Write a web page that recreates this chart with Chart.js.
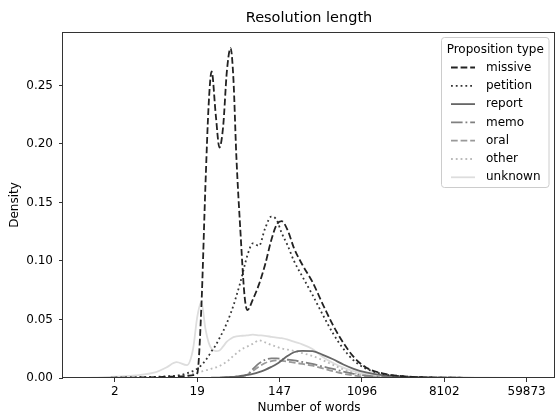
<!DOCTYPE html>
<html>
<head>
<meta charset="utf-8">
<script src="https://cdn.jsdelivr.net/npm/chart.js@4.4.0/dist/chart.umd.min.js"></script>
<style>
  html, body { margin: 0; padding: 0; background: #fff; }
</style>
</head>
<body>
<canvas id="myChart" width="557" height="415"></canvas>
<script>
// x is log1p(number of words); ticks labelled with the word counts
const xGrid = [0.2, 0.5, 1, 1.5, 2, 2.25, 2.5, 2.75, 2.9, 3.0, 3.1, 3.2, 3.28, 3.35, 3.45, 3.54, 3.63, 3.72, 3.81, 3.88,
  3.95, 4.05, 4.15, 4.22, 4.35, 4.5, 4.65, 4.8, 4.93, 5.05, 5.2, 5.35, 5.55, 5.8, 6.05, 6.3, 6.55, 6.8, 7.1, 7.5,
  8, 8.5, 9, 10, 11.2];
const xTickPos = [1, 3, 5, 7, 9, 11];
const xTickLabels = ['2', '19', '147', '1096', '8102', '59873'];
const yTicks = [0, 0.05, 0.10, 0.15, 0.20, 0.25];

const seriesNames = ['missive', 'petition', 'report', 'memo', 'oral', 'other', 'unknown'];

// density values at xGrid
const missive = [0, 0, 0.0002, 0.0004, 0.0007, 0.001, 0.0013, 0.0018, 0.0025, 0.004, 0.06, 0.165, 0.235, 0.262, 0.225, 0.197, 0.215, 0.262, 0.282, 0.255,
  0.19, 0.125, 0.07, 0.058, 0.067, 0.08, 0.097, 0.118, 0.131, 0.134, 0.126, 0.111, 0.097, 0.082, 0.063, 0.045, 0.03, 0.018, 0.009, 0.004,
  0.0015, 0.0006, 0.0003, 0.0001, 0];
const petition = [0, 0, 0.0003, 0.0006, 0.001, 0.0015, 0.002, 0.004, 0.006, 0.008, 0.011, 0.015, 0.019, 0.023, 0.028, 0.034, 0.04, 0.047, 0.055, 0.062,
  0.07, 0.082, 0.096, 0.105, 0.115, 0.113, 0.128, 0.138, 0.135, 0.124, 0.113, 0.1, 0.087, 0.071, 0.054, 0.038, 0.025, 0.015, 0.008, 0.0035,
  0.0015, 0.0006, 0.0003, 0.0001, 0];
const report = [0, 0, 0, 0, 0, 0, 0, 0, 0, 0, 0, 0.0001, 0.0001, 0.0002, 0.0003, 0.0004, 0.0005, 0.0007, 0.0009, 0.001,
  0.0013, 0.0017, 0.0022, 0.0026, 0.0035, 0.005, 0.007, 0.0095, 0.012, 0.015, 0.019, 0.022, 0.0232, 0.023, 0.0198, 0.016, 0.0115, 0.0078, 0.0048, 0.0025,
  0.0012, 0.0006, 0.0003, 0.0001, 0];
const memo = [0, 0, 0, 0, 0, 0, 0, 0, 0, 0, 0, 0, 0, 0, 0.0001, 0.0001, 0.0002, 0.0003, 0.0004, 0.0005,
  0.0007, 0.001, 0.002, 0.003, 0.0075, 0.0125, 0.0155, 0.0168, 0.0168, 0.0162, 0.0156, 0.015, 0.0137, 0.012, 0.0098, 0.0077, 0.0055, 0.0036, 0.002, 0.001,
  0.0004, 0.0002, 0.0001, 0, 0];
const oral = [0, 0, 0, 0, 0, 0, 0, 0, 0, 0, 0, 0, 0, 0, 0, 0.0001, 0.0002, 0.0003, 0.0004, 0.0005,
  0.0007, 0.0012, 0.002, 0.003, 0.006, 0.0098, 0.0128, 0.0145, 0.015, 0.0146, 0.014, 0.0132, 0.012, 0.0105, 0.0082, 0.0058, 0.0037, 0.0022, 0.0011, 0.0005,
  0.0002, 0.0001, 0, 0, 0];
const other = [0, 0, 0.0001, 0.0003, 0.0008, 0.001, 0.0015, 0.0028, 0.0038, 0.0045, 0.0055, 0.0065, 0.0072, 0.008, 0.009, 0.0102, 0.012, 0.014, 0.0165, 0.019,
  0.021, 0.0238, 0.026, 0.027, 0.0292, 0.0322, 0.0305, 0.0283, 0.0267, 0.0252, 0.0242, 0.0232, 0.0213, 0.0188, 0.0152, 0.0112, 0.0073, 0.0043, 0.0022, 0.001,
  0.0004, 0.0002, 0.0001, 0, 0];
const unknown = [0, 0.0003, 0.0012, 0.0022, 0.005, 0.009, 0.0135, 0.011, 0.025, 0.052, 0.065, 0.042, 0.03, 0.025, 0.023, 0.0235, 0.027, 0.031, 0.0335, 0.035,
  0.0355, 0.036, 0.0362, 0.0365, 0.037, 0.0365, 0.036, 0.0352, 0.0345, 0.034, 0.0328, 0.031, 0.0288, 0.0248, 0.018, 0.0128, 0.0088, 0.0058, 0.0035, 0.002,
  0.001, 0.0006, 0.0004, 0.0002, 0.0001];

const seriesValues = [missive, petition, report, memo, oral, other, unknown];
const seriesColors = ['#222222', '#333333', '#666666', '#808080', '#999999', '#bbbbbb', '#dddddd'];
const seriesDash = [[6.7, 2.9], [1.8, 3], [], [11.6, 2.9, 1.8, 2.9], [6.7, 2.9], [1.8, 3], []];

const chartTitle = 'Resolution length';
const legendTitle = 'Proposition type';

Chart.defaults.font.family = '"DejaVu Sans", sans-serif';
Chart.defaults.font.size = 12;
Chart.defaults.color = '#000';

// frame, title and legend drawn on top
const decorPlugin = {
  id: 'decor',
  afterDraw(chart) {
    const ctx = chart.ctx;
    const a = chart.chartArea;
    ctx.save();
    ctx.strokeStyle = '#333';
    ctx.lineWidth = 1;
    ctx.strokeRect(Math.round(a.left) - 0.5, Math.round(a.top) + 0.5,
      Math.round(a.right - a.left), Math.round(a.bottom - a.top) - 1);

    ctx.fillStyle = '#000';
    ctx.font = '14.5px "DejaVu Sans"';
    ctx.textAlign = 'center';
    ctx.textBaseline = 'middle';
    ctx.fillText(chartTitle, (a.left + a.right) / 2, 18);

    // legend box
    const bx = 441.5, by = 37.5, bw = 107.5, bh = 150, r = 3;
    ctx.beginPath();
    ctx.moveTo(bx + r, by);
    ctx.arcTo(bx + bw, by, bx + bw, by + bh, r);
    ctx.arcTo(bx + bw, by + bh, bx, by + bh, r);
    ctx.arcTo(bx, by + bh, bx, by, r);
    ctx.arcTo(bx, by, bx + bw, by, r);
    ctx.closePath();
    ctx.fillStyle = 'rgba(255,255,255,0.8)';
    ctx.fill();
    ctx.strokeStyle = '#cccccc';
    ctx.stroke();

    ctx.font = '12px "DejaVu Sans"';
    ctx.fillStyle = '#000';
    ctx.textAlign = 'center';
    ctx.fillText(legendTitle, bx + bw / 2, 50);

    ctx.textAlign = 'left';
    chart.data.datasets.forEach((ds, i) => {
      const y = 67.5 + i * 18.3;
      ctx.beginPath();
      ctx.setLineDash(ds.borderDash);
      ctx.strokeStyle = ds.borderColor;
      ctx.lineWidth = ds.borderWidth;
      ctx.moveTo(451, y);
      ctx.lineTo(475, y);
      ctx.stroke();
      ctx.setLineDash([]);
      ctx.fillStyle = '#000';
      ctx.fillText(ds.label, 486, y);
    });
    ctx.restore();
  }
};

const ctx = document.getElementById('myChart').getContext('2d');
const myChart = new Chart(ctx, {
  type: 'line',
  data: {
    datasets: seriesNames.map((name, i) => ({
      label: name,
      data: xGrid.map((x, j) => ({ x: x, y: seriesValues[i][j] })),
      borderColor: seriesColors[i],
      borderDash: seriesDash[i],
      borderWidth: 1.8,
      pointRadius: 0,
      fill: false,
      cubicInterpolationMode: 'monotone'
    }))
  },
  options: {
    responsive: false,
    animation: false,
    devicePixelRatio: 1,
    layout: { padding: { top: 32, right: 2, left: 0, bottom: 0 } },
    plugins: {
      legend: { display: false },
      tooltip: { enabled: false }
    },
    scales: {
      x: {
        type: 'linear',
        min: -0.26,
        max: 11.69,
        afterFit: (scale) => { scale.height = 37; },
        afterBuildTicks: (scale) => { scale.ticks = xTickPos.map(v => ({ value: v })); },
        ticks: {
          autoSkip: false,
          maxRotation: 0,
          padding: 3,
          callback: (v, i) => xTickLabels[i]
        },
        grid: { drawOnChartArea: false, tickLength: 4, color: '#333' },
        border: { display: false },
        title: { display: true, text: 'Number of words', padding: { top: 0, bottom: 0 } }
      },
      y: {
        min: 0,
        max: 0.2957,
        afterFit: (scale) => { scale.width = 63; },
        afterBuildTicks: (scale) => { scale.ticks = yTicks.map(v => ({ value: v })); },
        ticks: {
          padding: 6,
          callback: (v) => v.toFixed(2)
        },
        grid: { drawOnChartArea: false, tickLength: 4, color: '#333' },
        border: { display: false },
        title: { display: true, text: 'Density', padding: { top: 8, bottom: 0 } }
      }
    }
  },
  plugins: [decorPlugin]
});
</script>
</body>
</html>
